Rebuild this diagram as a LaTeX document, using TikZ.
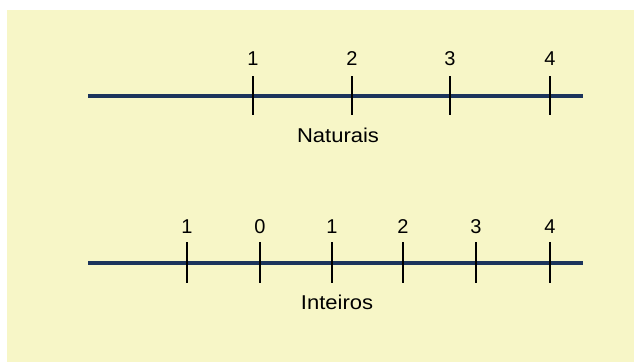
\documentclass[tikz,border=0pt]{standalone}
\usepackage{fontspec}
\setmainfont{Liberation Sans}
\definecolor{bgyellow}{RGB}{247,246,199}
\definecolor{navyline}{RGB}{28,52,92}
\begin{document}
\begin{tikzpicture}[x=1pt,y=-1pt,
  axisline/.style={draw=navyline,line width=3.6pt},
  tickline/.style={draw=black,line width=1.5pt},
  numlabel/.style={inner sep=0pt,font=\fontsize{20}{22}\selectfont},
  setlabel/.style={inner sep=0pt,font=\fontsize{20}{22}\selectfont,xscale=1.1}]
\useasboundingbox (0,0) rectangle (634,362);
\fill[white] (0,0) rectangle (634,362);
\fill[bgyellow] (7,10) rectangle (634,362);
% top line
\coordinate (a1) at (88,96);
\coordinate (a2) at (583,96);
\draw[axisline] (a1) -- (a2);
\foreach \x/\l/\n in {253/1/na,352/2/nb,450/3/nc,550/4/nd}{
  \coordinate (\n t) at (\x,76);
  \coordinate (\n b) at (\x,115);
  \draw[tickline] (\n t) -- (\n b);
  \node[numlabel] (\n l) at (\x,59) {\l};
}
\node[setlabel] (nat) at (338,135) {Naturais};
% bottom line
\coordinate (b1) at (88,263);
\coordinate (b2) at (583,263);
\draw[axisline] (b1) -- (b2);
\foreach \x/\l/\n in {187/1/za,260/0/zb,332/1/zc,403/2/zd,476/3/ze,550/4/zf}{
  \coordinate (\n t) at (\x,242);
  \coordinate (\n b) at (\x,283);
  \draw[tickline] (\n t) -- (\n b);
  \node[numlabel] (\n l) at (\x,227) {\l};
}
\node[setlabel] (int) at (337,302) {Inteiros};
\end{tikzpicture}
\end{document}
